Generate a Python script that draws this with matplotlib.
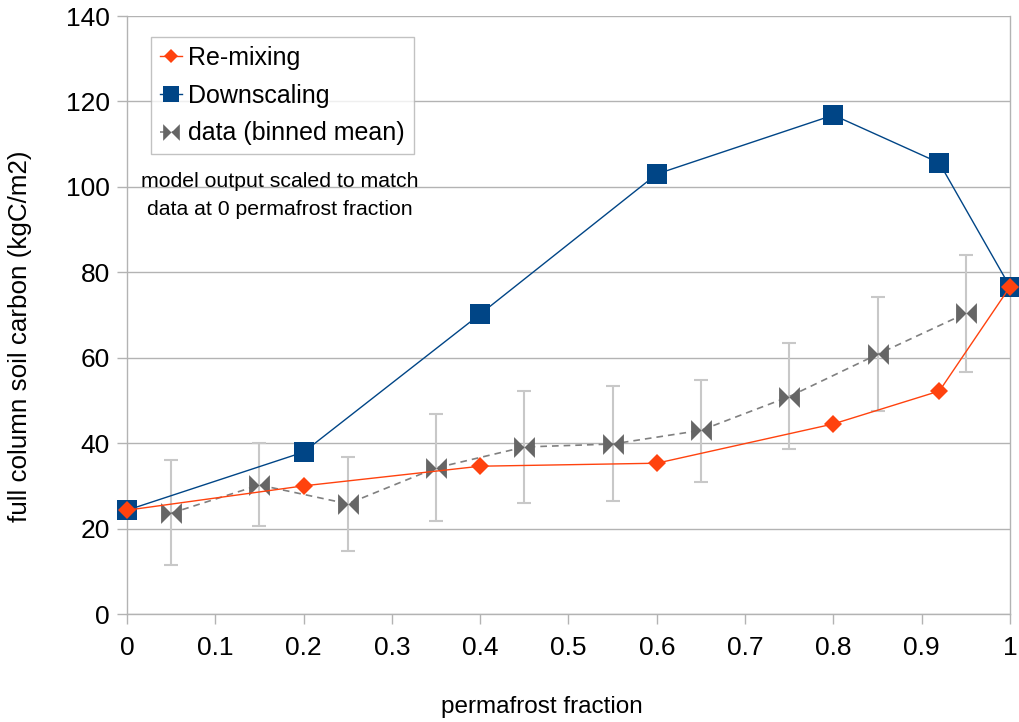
import matplotlib
matplotlib.use("Agg")
import matplotlib.pyplot as plt
from matplotlib.path import Path
import numpy as np

plt.rcParams['font.family'] = ['Liberation Sans', 'DejaVu Sans']

# Data
x_model = [0, 0.2, 0.4, 0.6, 0.8, 0.92, 1.0]
remixing = [24.3, 30.0, 34.6, 35.3, 44.5, 52.2, 76.6]
downscaling = [24.3, 37.9, 70.2, 103.0, 116.8, 105.6, 76.6]

x_data = [0.05, 0.15, 0.25, 0.35, 0.45, 0.55, 0.65, 0.75, 0.85, 0.95]
data_mean = [23.6, 30.2, 25.8, 34.2, 39.1, 39.8, 43.0, 50.9, 60.8, 70.4]
data_upper = [36.1, 40.0, 36.8, 46.8, 52.2, 53.4, 54.8, 63.4, 74.2, 84.1]
data_lower = [11.5, 20.6, 14.8, 21.8, 26.0, 26.4, 30.9, 38.6, 47.5, 56.7]

x_ticks = [0, 0.1, 0.2, 0.3, 0.4, 0.5, 0.6, 0.7, 0.8, 0.9, 1]
x_ticklabels = ['0', '0.1', '0.2', '0.3', '0.4', '0.5', '0.6', '0.7', '0.8', '0.9', '1']
y_ticks = [0, 20, 40, 60, 80, 100, 120, 140]

fig = plt.figure(figsize=(10.2, 7.22), dpi=100)
ax = fig.add_axes([127/1020, 108/722, (1010-127)/1020, (614-16)/722])

gray = '#b3b3b3'
ax.set_xlim(0, 1)
ax.set_ylim(0, 140)
ax.set_yticks(y_ticks)
ax.set_xticks(x_ticks)
ax.set_xticklabels(x_ticklabels)
ax.yaxis.grid(True, color=gray, linewidth=1)
ax.set_axisbelow(True)
for s in ['left', 'bottom', 'right']:
    ax.spines[s].set_color(gray)
    ax.spines[s].set_linewidth(1)
ax.spines['top'].set_visible(False)
ax.tick_params(axis='both', colors=gray, labelcolor='black', labelsize=19,
               length=7.5, width=1, direction='out')
ax.tick_params(axis='x', pad=8)
ax.tick_params(axis='y', pad=5)

bowtie = Path([(-1, 1), (0, 0), (1, 1), (1, -1), (0, 0), (-1, -1), (-1, 1)],
              [Path.MOVETO, Path.LINETO, Path.LINETO, Path.LINETO, Path.LINETO, Path.LINETO, Path.CLOSEPOLY])

err = [np.array(data_mean) - np.array(data_lower), np.array(data_upper) - np.array(data_mean)]
ax.errorbar(x_data, data_mean, yerr=err, fmt='none', ecolor='#c8c8c8', elinewidth=1.5,
            capsize=5, capthick=1.5, zorder=2)
ax.plot(x_data, data_mean, color='#808080', linestyle=(0, (4, 3)), linewidth=1.2,
        marker=bowtie, markersize=15, markerfacecolor='#666666', markeredgecolor='#666666',
        markeredgewidth=0, zorder=3, label='data (binned mean)', clip_on=False)
ax.plot(x_model, downscaling, color='#004586', linewidth=1, marker='s', markersize=14,
        markerfacecolor='#004586', markeredgecolor='#004586', markeredgewidth=0, zorder=4,
        label='Downscaling', clip_on=False)
ax.plot(x_model, remixing, color='#ff420e', linewidth=1, marker='D', markersize=9.5,
        markerfacecolor='#ff420e', markeredgecolor='#ff420e', markeredgewidth=0, zorder=5,
        label='Re-mixing', clip_on=False)

handles, labels = ax.get_legend_handles_labels()
order = [2, 1, 0]
leg = ax.legend([handles[i] for i in order], [labels[i] for i in order],
                loc='upper left', bbox_to_anchor=(24/883, 1 - 21/598), fontsize=18,
                frameon=True, fancybox=False, edgecolor=gray, handlelength=0.9,
                handletextpad=0.25, borderpad=0.35, labelspacing=0.55, markerscale=0.8,
                borderaxespad=0)
leg.get_frame().set_linewidth(1)

ax.text(0.173, 0.699, 'model output scaled to match\ndata at 0 permafrost fraction',
        transform=ax.transAxes, ha='center', va='center', fontsize=15.3, linespacing=1.6)

ax.set_xlabel('permafrost fraction', fontsize=17.5)
ax.xaxis.set_label_coords(0.47, -0.137)
ax.set_ylabel('full column soil carbon (kgC/m2)', fontsize=18.7)
ax.yaxis.set_label_coords(-0.1076, 0.465)

fig.savefig('out.png', dpi=100)
